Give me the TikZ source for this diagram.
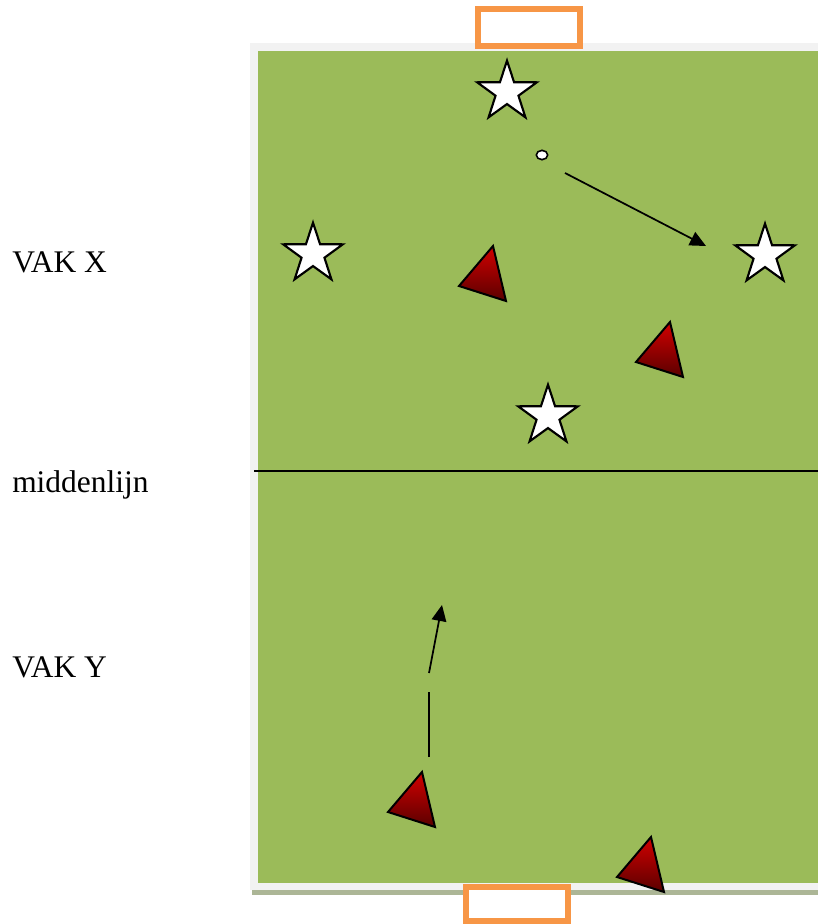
\documentclass[tikz,border=0pt]{standalone}
\usepackage{fontspec}
\setmainfont{Liberation Serif}
\usetikzlibrary{shapes.geometric,arrows.meta}
\definecolor{veldgroen}{RGB}{155,187,89}
\definecolor{randgrijs}{RGB}{242,242,242}
\definecolor{schaduw}{RGB}{172,182,150}
\definecolor{doeloranje}{RGB}{247,150,70}
\definecolor{spelerlicht}{RGB}{210,0,0}
\definecolor{spelerdonker}{RGB}{90,0,0}

\begin{document}
\begin{tikzpicture}[x=0.75pt,y=0.75pt,yscale=-1,xscale=1,
  ster/.style={star,star points=5,star point ratio=2.6,minimum size=47pt,inner sep=0pt,draw,fill=white,line width=1.6pt},
  speler/.style={draw,line width=1.5pt,line join=miter,top color=spelerlicht,bottom color=spelerdonker},
  doel/.style={draw=doeloranje,line width=3.8pt,fill=white},
  pass/.style={line width=1.3pt,-{Triangle[length=12pt,width=11pt]}},
  vak/.style={anchor=base west,inner sep=0pt,font=\fontsize{23.6}{28}\selectfont}]

\useasboundingbox (0,0) rectangle (818,924);

% veld
\fill [randgrijs] (250,43) rectangle (818,890) ;
\fill [schaduw] (252,890) rectangle (818,895) ;
\fill [veldgroen] (258,51) rectangle (818,883) ;
\draw [line width=1.2pt] (254,471) -- (818,471) ;

% doelen
\draw [doel] (478,9) rectangle (580,46) ;
\draw [doel] (466,887) rectangle (568,921) ;

% sterren en bal
\node [ster] (ster1) at (507,92) {};
\node [ster] (ster2) at (313,254) {};
\node [ster] (ster3) at (765,255) {};
\node [ster] (ster4) at (548,416) {};
\node [ellipse,draw,fill=white,line width=1.2pt,minimum width=8.5pt,minimum height=7pt,inner sep=0pt] (bal) at (542,155) {};

% spelers
\foreach \x/\y in {493/246,670/322,422/772,651/837}
  \draw [speler] (\x,\y) -- ++(-34,40) -- ++(47,15) -- cycle ;

% looplijnen
\coordinate (passA) at (565,173);
\coordinate (passB) at (706,246);
\coordinate (loopA) at (429,757);
\coordinate (loopB) at (429,692);
\coordinate (loopC) at (429,673);
\coordinate (loopD) at (442,605);
\draw [pass] (passA) -- (passB) ;
\draw [line width=1.3pt] (loopA) -- (loopB) ;
\draw [pass] (loopC) -- (loopD) ;

% teksten
\node [vak] (vakx) at (12,272) {VAK X};
\node [vak] (midden) at (12,492) {middenlijn};
\node [vak] (vaky) at (12,677) {VAK Y};

\end{tikzpicture}
\end{document}
